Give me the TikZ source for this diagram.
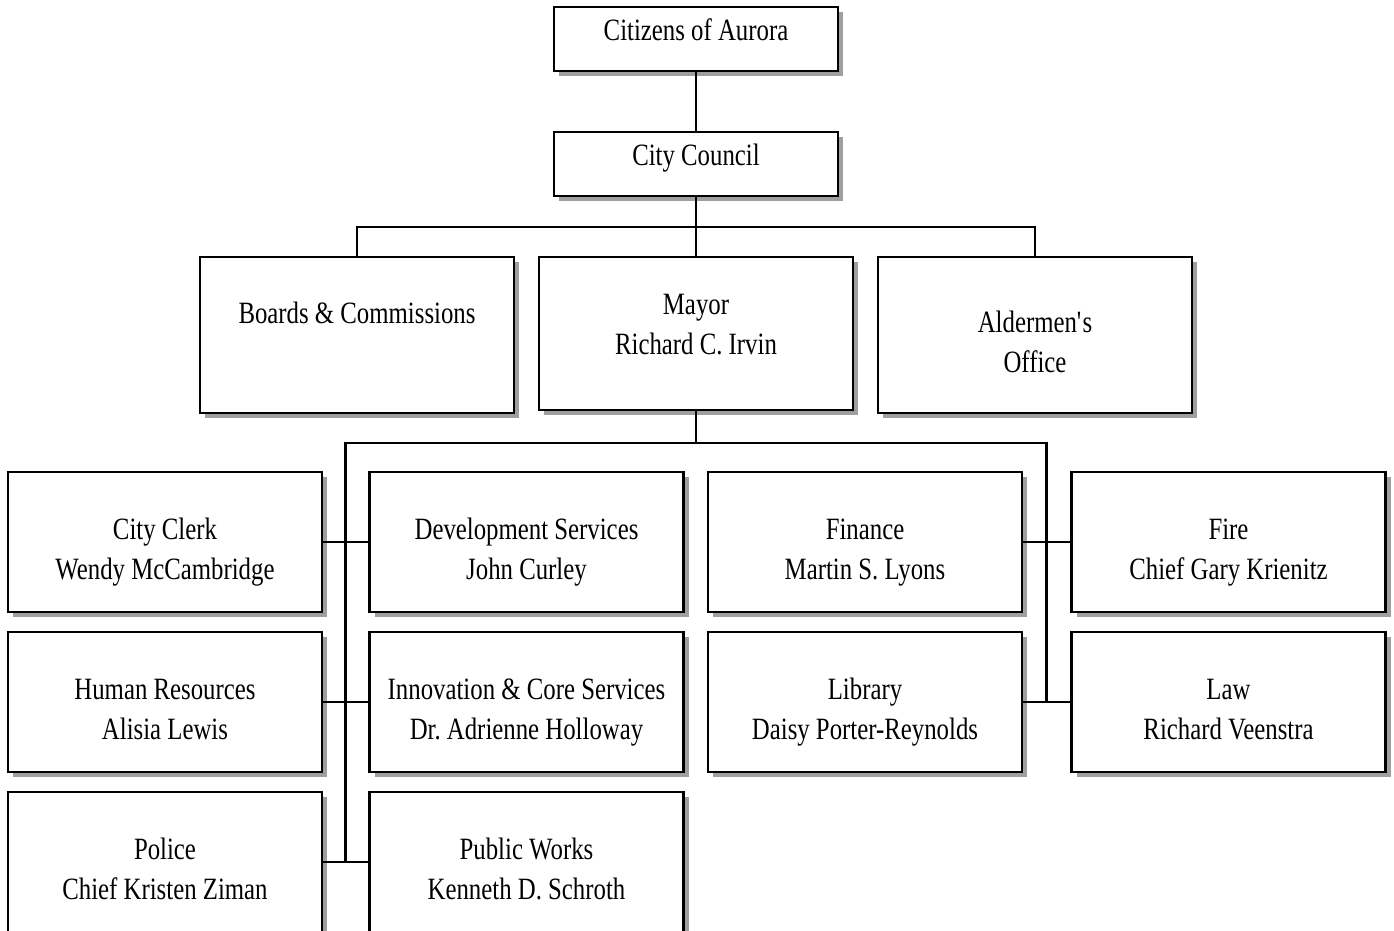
\documentclass[tikz,border=0pt]{standalone}
\usepackage{fontspec}
\setmainfont{Liberation Serif}[FakeStretch=0.8]
\frenchspacing
\usetikzlibrary{shadows}
\usetikzlibrary{calc}

\begin{document}
\begin{tikzpicture}[x=1pt,y=-1pt,
    unit/.style={draw,line width=2.9pt,fill=white,inner sep=0pt,
      minimum width=314pt,minimum height=140pt,
      drop shadow={shadow xshift=5pt,shadow yshift=-5pt,fill=gray!75,opacity=1}},
    caption/.style={anchor=north,inner sep=0pt,align=center,
      font=\fontsize{31}{40}\selectfont},
    wire/.style={line width=2.6pt}]
      \fill[white] (0,0) rectangle (1394,930);
      \useasboundingbox (0,0) rectangle (1394,930);
      \node[unit,minimum width=284pt,minimum height=64pt] (citizens) at (696,39) {};
      \node[unit,minimum width=284pt,minimum height=64pt] (council) at (696,164) {};
      \node[unit,minimum height=156pt] (boards) at (357,335) {};
      \node[unit,minimum height=153pt] (mayor) at (696,333.5) {};
      \node[unit,minimum height=156pt] (alder) at (1035,335) {};
      \foreach\nm/\cx/\cy in {clerk/165/542,dev/526.5/542,finance/865/542,fire/1228.5/542,
                              hr/165/702,inno/526.5/702,library/865/702,law/1228.5/702,
                              police/165/862,works/526.5/862} {
	\node[unit] (\nm) at (\cx,\cy) {};
      }
      \foreach\nm/\dy/\txt in {citizens/13/Citizens of Aurora,
                               council/13/City Council,
                               boards/46/Boards \& Commissions,
                               mayor/38/Mayor\\Richard C. Irvin,
                               alder/55/Aldermen\textquotesingle s\\Office,
                               clerk/47/City Clerk\\Wendy McCambridge,
                               dev/47/Development Services\\John Curley,
                               finance/48/Finance\\Martin S. Lyons,
                               fire/48/Fire\\Chief Gary Krienitz,
                               hr/48/Human Resources\\Alisia Lewis,
                               inno/48/Innovation \& Core Services\\Dr. Adrienne Holloway,
                               library/47/Library\\Daisy Porter-Reynolds,
                               law/48/Law\\Richard Veenstra,
                               police/47/Police\\Chief Kristen Ziman,
                               works/47/Public Works\\Kenneth D. Schroth} {
	\node[caption] (\nm-text) at ([shift={(0,\dy)}]\nm.north) {\txt};
      }
      \coordinate (upper) at (696,227);
      \coordinate (lower) at (696,443);
      \draw[wire] (citizens) -- (council);
      \draw[wire] (council) -- (upper) (upper) -- (mayor)
                  (boards.north) |- (upper) -| (alder.north);
      \draw[wire] (mayor) -- (lower) -| ($(police.east)!0.5!(works.west)$);
      \draw[wire] (lower) -| ($(library.east)!0.5!(law.west)$);
      \foreach\a/\b in {clerk/dev,hr/inno,police/works,finance/fire,library/law} {
	\draw[wire] (\a) -- (\b);
      }
    \end{tikzpicture}
\end{document}
